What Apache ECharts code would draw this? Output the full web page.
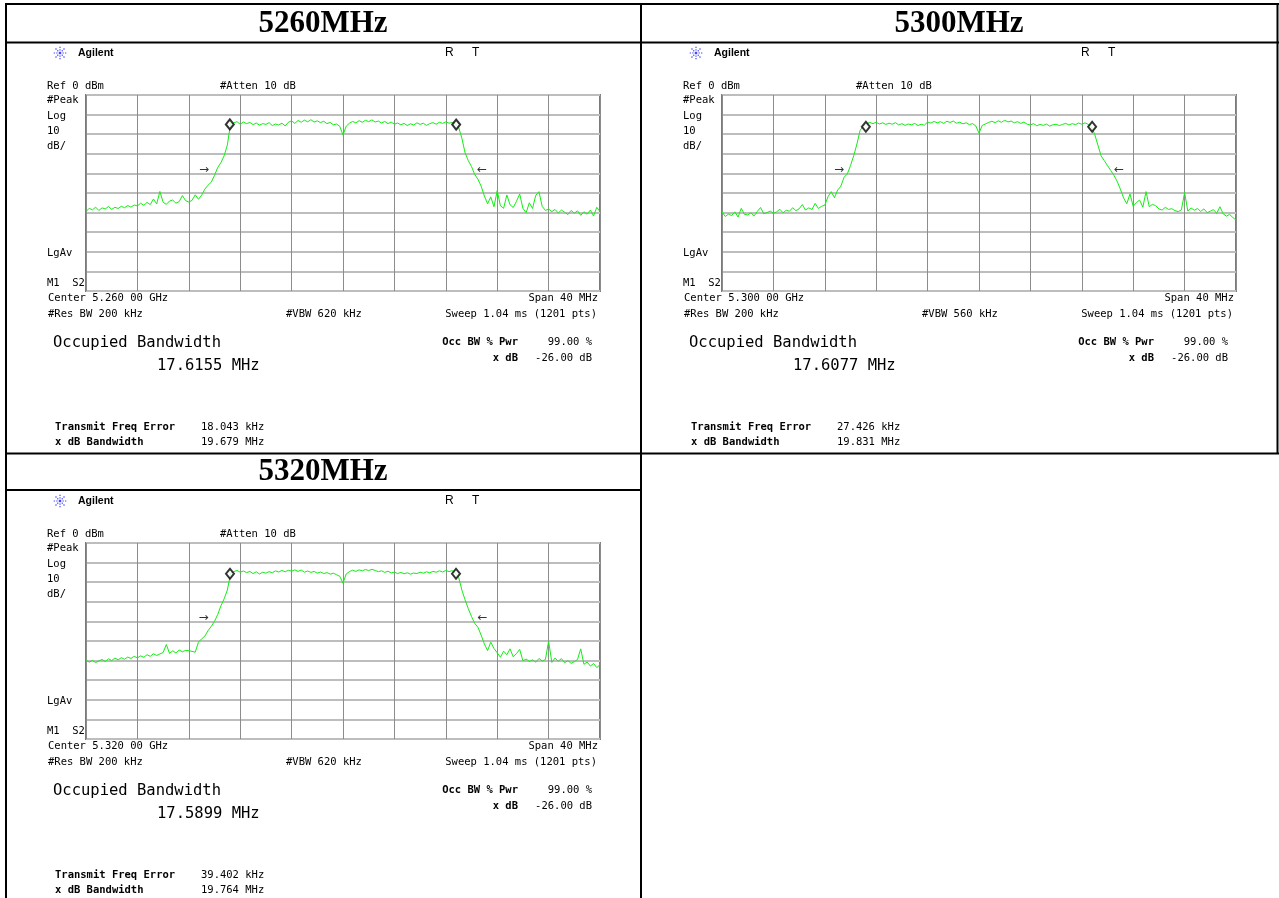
<!DOCTYPE html>
<html><head><meta charset="utf-8">
<script src="https://cdn.jsdelivr.net/npm/echarts@6/dist/echarts.min.js"></script>
<style>html,body{margin:0;padding:0;background:#fff}#c{width:1279px;height:898px}</style>
</head><body><div id="c"></div>
<script>
// ---- data ----
const titles = ['5260MHz', '5300MHz', '5320MHz'];
const centerLabels = ['Center 5.260 00 GHz', 'Center 5.300 00 GHz', 'Center 5.320 00 GHz'];
const vbwLabels = ['#VBW 620 kHz', '#VBW 560 kHz', '#VBW 620 kHz'];
const occBandwidth = [17.6155, 17.6077, 17.5899];      // MHz
const freqError = ['18.043 kHz', '27.426 kHz', '39.402 kHz'];
const xdBBandwidth = [19.679, 19.831, 19.764];         // MHz
const yTicks = [0, -10, -20, -30, -40, -50, -60, -70, -80, -90, -100]; // dBm, 10 dB/div
const spanMHz = [-20, 20];                             // offset from centre, 40 MHz span
const stepMHz = 0.25;
const markerLevel5260 = [-15.0, -15.1];
const markerLevel5300 = [-16.2, -16.2];
const markerLevel5320 = [-15.7, -15.7];
const arrowLevel = [-38, -38, -38];

const trace5260 = [
 -59.5,-57.8,-58.6,-57.2,-58.9,-57.6,-58.1,-56.9,-58.4,-57.3,-57.9,-56.8,-57.5,-56.4,-57.2,-56.1,-56.6,
 -55.2,-56.3,-54.8,-55.9,-53.1,-55.6,-49.2,-54.7,-55.8,-54.1,-53.6,-55.2,-54.4,-51.3,-53.9,-54.6,
 -53.8,-50.9,-53.2,-51.1,-48.0,-46.0,-44.5,-41.0,-37.0,-34.5,-31.0,-25.5,-14.6,
 -14.2,-13.6,-14.9,-13.8,-14.6,-14.0,-15.1,-14.3,-15.4,-14.6,
 -15.0,-14.1,-15.6,-14.8,-15.3,-14.4,-15.8,-13.9,-13.2,-14.5,
 -13.0,-13.9,-12.8,-13.7,-12.6,-13.8,-13.2,-14.1,-13.4,-14.6,
 -14.0,-15.2,-14.8,-16.0,-20.4,-15.9,-14.4,-13.5,-14.2,-13.1,
 -13.9,-12.9,-13.6,-12.7,-13.8,-13.3,-14.3,-13.5,-14.6,-13.8,
 -14.9,-14.3,-15.2,-14.5,-15.6,-14.7,-15.3,-14.2,-15.0,-14.4,
 -15.5,-14.6,-14.1,-14.9,-13.9,-14.5,-13.7,-14.4,-14.0,-14.8,
 -16.5,-22.0,-29.5,-33.5,-36.5,-40.5,-43.0,-46.5,-51.5,-55.5,
 -52.0,-57.0,-48.8,-56.5,-57.8,-51.0,-56.0,-57.4,-54.2,-50.5,
 -57.8,-60.1,-55.0,-57.9,-51.2,-49.3,-56.8,-58.9,-58.2,-59.5,
 -58.4,-60.2,-58.7,-59.8,-61.0,-58.9,-60.3,-59.1,-61.4,-59.6,
 -60.8,-58.7,-61.7,-57.3,-59.5
];
const trace5300 = [
 -59.5,-62.0,-60.8,-61.5,-59.6,-62.3,-57.8,-60.9,-61.2,-60.1,-61.7,-59.4,-57.4,-60.6,-60.0,-59.2,-60.4,
 -59.6,-58.3,-60.1,-58.8,-59.3,-57.5,-59.0,-58.1,-55.9,-58.7,-57.6,-58.4,-55.3,-57.9,-56.8,-56.2,
 -51.9,-49.3,-52.4,-48.5,-46.5,-42.0,-40.3,-36.0,-31.0,-25.0,-18.0,-15.8,-14.6,
 -14.0,-14.6,-13.9,-14.8,-14.2,-15.0,-14.4,-14.9,-14.1,-15.3,
 -14.6,-15.5,-14.8,-15.2,-14.5,-15.6,-14.9,-15.4,-13.8,-14.3,
 -13.5,-14.2,-13.6,-14.5,-13.4,-14.0,-13.3,-14.4,-13.9,-14.7,
 -14.2,-15.1,-14.6,-15.8,-19.4,-15.5,-14.8,-14.0,-13.4,-14.1,
 -13.2,-13.9,-12.9,-13.7,-13.3,-14.2,-13.6,-14.5,-13.8,-14.9,
 -15.3,-14.6,-15.7,-15.0,-15.5,-14.8,-15.9,-15.2,-14.9,-15.6,
 -15.0,-14.5,-15.3,-14.6,-15.1,-14.3,-14.9,-14.2,-15.0,-16.2,
 -20.0,-25.5,-31.0,-33.5,-36.0,-38.5,-41.0,-44.0,-48.0,-52.5,
 -55.5,-50.5,-56.8,-54.9,-53.6,-57.2,-49.3,-57.0,-55.8,-56.5,
 -58.1,-58.7,-57.3,-58.4,-58.0,-59.0,-59.5,-58.6,-49.8,-59.2,
 -57.6,-58.8,-57.9,-59.4,-58.1,-60.0,-59.3,-58.5,-60.4,-57.0,
 -60.6,-61.8,-60.9,-62.5,-63.8
];
const trace5320 = [
 -59.6,-60.8,-59.9,-61.0,-60.2,-59.4,-60.5,-59.1,-60.0,-58.7,-59.6,-58.5,-59.3,-58.2,-58.9,-57.8,-58.6,
 -57.6,-58.3,-57.0,-57.8,-56.5,-57.4,-56.6,-55.9,-51.8,-56.3,-55.0,-56.1,-54.6,-55.5,-54.8,-54.9,
 -55.3,-55.7,-50.6,-48.9,-47.5,-44.7,-42.5,-40.0,-36.5,-32.0,-28.5,-24.0,-15.7,
 -14.6,-14.0,-14.9,-14.3,-15.1,-14.5,-15.6,-14.7,-15.8,-14.9,
 -15.4,-14.6,-15.2,-14.2,-14.8,-14.0,-14.7,-13.9,-14.4,-13.7,
 -14.5,-13.8,-14.9,-14.3,-15.0,-14.5,-15.4,-14.8,-15.6,-15.1,
 -15.9,-15.4,-16.2,-17.0,-20.5,-15.8,-14.6,-13.9,-14.5,-13.7,
 -14.2,-13.5,-14.1,-13.4,-14.0,-14.6,-14.2,-15.0,-14.4,-15.3,
 -14.8,-15.6,-15.0,-15.7,-15.2,-15.9,-15.3,-15.6,-14.9,-15.4,
 -14.7,-15.2,-14.5,-14.9,-14.2,-14.8,-14.0,-14.6,-14.1,-15.4,
 -17.5,-24.0,-29.0,-33.5,-37.5,-41.0,-43.0,-47.0,-51.5,-54.9,
 -50.6,-53.8,-56.0,-58.3,-55.2,-57.0,-54.0,-58.1,-56.4,-54.3,
 -60.1,-59.2,-60.4,-59.6,-60.8,-58.9,-60.2,-59.5,-50.1,-60.9,
 -58.7,-60.3,-59.0,-61.1,-60.0,-61.4,-60.6,-59.4,-54.0,-61.9,
 -60.7,-62.8,-61.5,-63.6,-62.0
];

// ---- layout ----
const traces = [trace5260, trace5300, trace5320];
const markerLevels = [markerLevel5260, markerLevel5300, markerLevel5320];
const offsets = [[0, 0], [636, 0], [0, 448]];
const GREEN = '#12ee12';
const MONO = '"DejaVu Sans Mono"';
const fS = '10.5px ' + MONO;
const fB = 'bold 10.5px ' + MONO;
const fL = '15.5px ' + MONO;

const chart = echarts.init(document.getElementById('c'), null, { renderer: 'canvas' });

const grids = [], xAxes = [], yAxes = [], series = [], graphics = [];

function txt(x, y, s, font, align) {
  graphics.push({ type: 'text', silent: true, z: 10,
    style: { x: x, y: y, text: s, font: font, fill: '#000', align: align || 'left', verticalAlign: 'middle' } });
}
function ln(x1, y1, x2, y2, w, c, dash) {
  graphics.push({ type: 'line', silent: true, z: 10,
    shape: { x1: x1, y1: y1, x2: x2, y2: y2 },
    style: { stroke: c || '#000', lineWidth: w || 2, lineDash: dash || null } });
}

offsets.forEach(([dx, dy], k) => {
  grids.push({ left: 86 + dx, top: 95 + dy, width: 514, height: 196, show: true,
    borderColor: '#7a7a7a', borderWidth: 2, backgroundColor: '#fff' });
  xAxes.push({ gridIndex: k, type: 'value', min: spanMHz[0], max: spanMHz[1], interval: 4,
    axisLine: { show: false }, axisTick: { show: false }, axisLabel: { show: false },
    splitLine: { show: true, lineStyle: { color: '#8c8c8c', width: 1 } } });
  yAxes.push({ gridIndex: k, type: 'value', min: yTicks[yTicks.length - 1], max: yTicks[0], interval: 10,
    axisLine: { show: false }, axisTick: { show: false }, axisLabel: { show: false },
    splitLine: { show: true, lineStyle: { color: '#bdbdbd', width: 2 } } });

  series.push({ type: 'line', xAxisIndex: k, yAxisIndex: k, showSymbol: false, symbol: 'none',
    data: traces[k].map((v, i) => [spanMHz[0] + i * stepMHz, v]),
    lineStyle: { color: GREEN, width: 1 }, z: 3, silent: true });

  const h = occBandwidth[k] / 2;
  series.push({ type: 'scatter', xAxisIndex: k, yAxisIndex: k, symbol: 'diamond', symbolSize: [8, 10],
    data: [[-h, markerLevels[k][0]], [h, markerLevels[k][1]]],
    itemStyle: { color: '#fff', borderColor: '#000', borderWidth: 2 }, z: 5, silent: true });

  const e = xdBBandwidth[k] / 2;
  series.push({ type: 'scatter', xAxisIndex: k, yAxisIndex: k, symbol: 'circle', symbolSize: 1,
    itemStyle: { color: 'rgba(0,0,0,0)' }, z: 5, silent: true,
    label: { show: true, color: '#000', fontSize: 12, fontFamily: 'DejaVu Sans', distance: 7 },
    data: [
      { value: [-e, arrowLevel[k]], label: { formatter: '\u2192', position: 'left' } },
      { value: [e, arrowLevel[k]], label: { formatter: '\u2190', position: 'right' } }
    ] });

  // Agilent logo (starburst)
  const cx = 60 + dx, cy = 53 + dy;
  for (let a = 0; a < 8; a++) {
    const ang = a * Math.PI / 4;
    ln(cx, cy, cx + 6.5 * Math.cos(ang), cy + 6.5 * Math.sin(ang), 1.2, '#4646ff', [1.3, 1.2]);
  }
  txt(78 + dx, 53 + dy, 'Agilent', 'bold 10.5px "Liberation Sans"');
  txt(445 + dx, 53 + dy, 'R', '12px "Liberation Sans"');
  txt(472 + dx, 53 + dy, 'T', '12px "Liberation Sans"');

  txt(47 + dx, 86 + dy, 'Ref 0 dBm', fS);
  txt(220 + dx, 86 + dy, '#Atten 10 dB', fS);
  txt(47 + dx, 100 + dy, '#Peak', fS);
  txt(47 + dx, 116 + dy, 'Log', fS);
  txt(47 + dx, 131 + dy, '10', fS);
  txt(47 + dx, 146 + dy, 'dB/', fS);
  txt(47 + dx, 253 + dy, 'LgAv', fS);
  txt(47 + dx, 283 + dy, 'M1  S2', fS);

  txt(48 + dx, 298 + dy, centerLabels[k], fS);
  txt(598 + dx, 298 + dy, 'Span 40 MHz', fS, 'right');
  txt(48 + dx, 314 + dy, '#Res BW 200 kHz', fS);
  txt(286 + dx, 314 + dy, vbwLabels[k], fS);
  txt(597 + dx, 314 + dy, 'Sweep 1.04 ms (1201 pts)', fS, 'right');

  txt(53 + dx, 343 + dy, 'Occupied Bandwidth', fL);
  txt(157 + dx, 366 + dy, occBandwidth[k].toFixed(4) + ' MHz', fL);
  txt(518 + dx, 342 + dy, 'Occ BW % Pwr', fB, 'right');
  txt(592 + dx, 342 + dy, '99.00 %', fS, 'right');
  txt(518 + dx, 358 + dy, 'x dB', fB, 'right');
  txt(592 + dx, 358 + dy, '-26.00 dB', fS, 'right');

  txt(55 + dx, 427 + dy, 'Transmit Freq Error', fB);
  txt(201 + dx, 427 + dy, freqError[k], fS);
  txt(55 + dx, 442 + dy, 'x dB Bandwidth', fB);
  txt(201 + dx, 442 + dy, xdBBandwidth[k].toFixed(3) + ' MHz', fS);
});

// table titles
const titleFont = 'bold 31px "Liberation Serif"';
graphics.push({ type: 'text', silent: true, z: 10, style: { x: 323, y: 24, text: titles[0], font: titleFont, fill: '#000', align: 'center', verticalAlign: 'middle' } });
graphics.push({ type: 'text', silent: true, z: 10, style: { x: 959, y: 24, text: titles[1], font: titleFont, fill: '#000', align: 'center', verticalAlign: 'middle' } });
graphics.push({ type: 'text', silent: true, z: 10, style: { x: 323, y: 472, text: titles[2], font: titleFont, fill: '#000', align: 'center', verticalAlign: 'middle' } });

// table borders
ln(5, 4, 1279, 4, 2);
ln(5, 42.5, 1279, 42.5, 2);
ln(6, 3, 6, 898, 2);
ln(641, 3, 641, 898, 2);
ln(1277.5, 3, 1277.5, 454, 2);
ln(5, 453.5, 1279, 453.5, 2);
ln(5, 490, 641, 490, 2);

chart.setOption({
  animation: false,
  backgroundColor: '#fff',
  grid: grids, xAxis: xAxes, yAxis: yAxes, series: series,
  graphic: { elements: graphics }
});
</script></body></html>
